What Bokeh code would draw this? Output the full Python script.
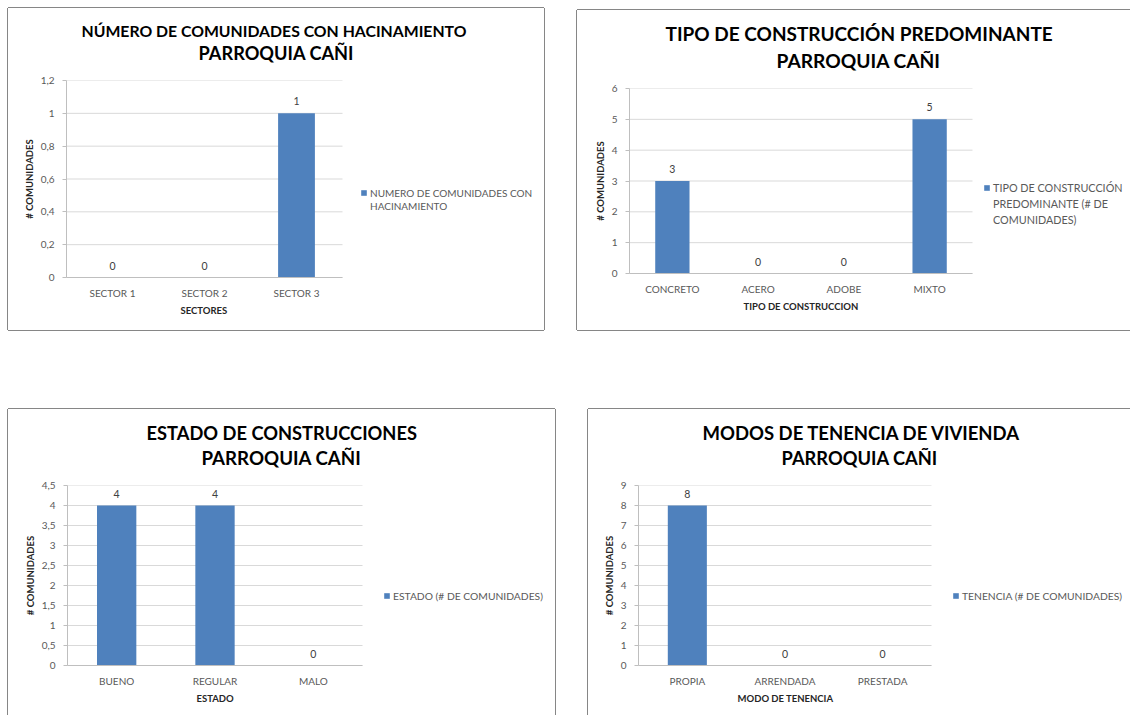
from bokeh.plotting import figure
from bokeh.models import (Range1d, FixedTicker, Title, Legend, LegendItem,
                          ColumnDataSource, Spacer)
from bokeh.layouts import row, column
from bokeh.embed import file_html
from bokeh.resources import INLINE
from bokeh.core.properties import value

# ---------------- data ----------------
c1_cats = ["SECTOR 1", "SECTOR 2", "SECTOR 3"]
c1_vals = [0, 0, 1]
c1_ticks = [0, 0.2, 0.4, 0.6, 0.8, 1.0, 1.2]
c1_tick_labels = ["0", "0,2", "0,4", "0,6", "0,8", "1", "1,2"]
c1_title = ["NÚMERO DE COMUNIDADES CON HACINAMIENTO", "PARROQUIA CAÑI"]
c1_xlabel = "SECTORES"
c1_legend = ["NUMERO DE COMUNIDADES CON", "HACINAMIENTO"]

c2_cats = ["CONCRETO", "ACERO", "ADOBE", "MIXTO"]
c2_vals = [3, 0, 0, 5]
c2_ticks = [0, 1, 2, 3, 4, 5, 6]
c2_tick_labels = ["0", "1", "2", "3", "4", "5", "6"]
c2_title = ["TIPO DE CONSTRUCCIÓN PREDOMINANTE", "PARROQUIA CAÑI"]
c2_xlabel = "TIPO DE CONSTRUCCION"
c2_legend = ["TIPO DE CONSTRUCCIÓN", "PREDOMINANTE (# DE", "COMUNIDADES)"]

c3_cats = ["BUENO", "REGULAR", "MALO"]
c3_vals = [4, 4, 0]
c3_ticks = [0, 0.5, 1, 1.5, 2, 2.5, 3, 3.5, 4, 4.5]
c3_tick_labels = ["0", "0,5", "1", "1,5", "2", "2,5", "3", "3,5", "4", "4,5"]
c3_title = ["ESTADO DE CONSTRUCCIONES", "PARROQUIA CAÑI"]
c3_xlabel = "ESTADO"
c3_legend = ["ESTADO (# DE COMUNIDADES)"]

c4_cats = ["PROPIA", "ARRENDADA", "PRESTADA"]
c4_vals = [8, 0, 0]
c4_ticks = [0, 1, 2, 3, 4, 5, 6, 7, 8, 9]
c4_tick_labels = ["0", "1", "2", "3", "4", "5", "6", "7", "8", "9"]
c4_title = ["MODOS DE TENENCIA DE VIVIENDA", "PARROQUIA CAÑI"]
c4_xlabel = "MODO DE TENENCIA"
c4_legend = ["TENENCIA (# DE COMUNIDADES)"]

y_label = "# COMUNIDADES"

# ---------------- style ----------------
FONT = "Lato"
BLUE = "#4F81BD"
GRID = "#D9D9D9"
AXIS = "#BFBFBF"
TICK_TXT = "#595959"
BORDER = "#868686"
SH = {"L": "-1px 0 0 0 " + BORDER, "R": "1px 0 0 0 " + BORDER,
      "T": "0 -1px 0 0 " + BORDER, "B": "0 1px 0 0 " + BORDER}


def shadow(sides):
    return ", ".join(SH[s] for s in sides)


def make_chart(cats, vals, ticks, tick_labels, titles, xlabel, legend_lines, g):
    n = len(cats)
    xs = [i + 0.5 for i in range(n)]          # category centres
    x_end = n * (g["w"] - g["l"]) / g["pw"]    # room on the right for the legend
    p = figure(x_range=Range1d(0, x_end), y_range=Range1d(ticks[0], ticks[-1]),
               width=g["w"], height=g["h"], title=None,
               output_backend="svg", toolbar_location=None,
               min_border_left=g["l"], min_border_right=0,
               min_border_top=g["t"], min_border_bottom=g["b"],
               background_fill_color="white", border_fill_color="white",
               outline_line_color=None, styles={"box-shadow": shadow(g["sides"])})
    p.xgrid.visible = False
    p.ygrid.visible = False

    # horizontal gridlines over the category area only
    p.segment(x0=[0] * len(ticks), x1=[n] * len(ticks), y0=ticks, y1=ticks,
              line_color=GRID, line_width=1)

    src = ColumnDataSource(dict(x=xs, val=vals, lab=[str(v) for v in vals]))
    r = p.vbar(x="x", top="val", width=0.4, source=src,
               fill_color=BLUE, line_color=None)
    p.text(x="x", y="val", text="lab", source=src, text_align="center",
           text_baseline="middle", y_offset=-12, text_font=value(FONT),
           text_font_size="10.5px", text_color="#404040")

    yt = FixedTicker(ticks=ticks)
    p.yaxis.ticker = yt
    p.yaxis.major_label_overrides = dict(zip(ticks, tick_labels))
    p.yaxis.axis_line_color = AXIS
    p.yaxis.major_tick_line_color = AXIS
    p.yaxis.major_tick_out = 4
    p.yaxis.major_tick_in = 0
    p.yaxis.minor_tick_line_color = None
    p.yaxis.major_label_standoff = 8
    p.yaxis.axis_label = y_label
    p.yaxis.axis_label_standoff = 3

    p.xaxis.ticker = FixedTicker(ticks=xs)
    p.xaxis.major_label_overrides = dict(zip(xs, cats))
    p.xaxis.bounds = (0, n)
    p.xaxis.axis_line_color = AXIS
    p.xaxis.major_tick_line_color = None
    p.xaxis.minor_tick_line_color = None
    p.xaxis.major_tick_out = 0
    p.xaxis.major_tick_in = 0
    p.xaxis.major_label_standoff = 9

    for ax in (p.xaxis, p.yaxis):
        ax.major_label_text_font = FONT
        ax.major_label_text_font_size = "10px"
        ax.major_label_text_color = TICK_TXT
        ax.axis_label_text_font = FONT
        ax.axis_label_text_font_size = "9.5px"
        ax.axis_label_text_font_style = "bold"
        ax.axis_label_text_color = "#262626"

    # x axis title, centred under the category area
    p.add_layout(Title(text=xlabel, align="left", offset=g["xo"], standoff=2,
                       text_font=FONT, text_font_size="9.5px", text_font_style="bold",
                       text_color="#262626"), "below")

    # titles: an empty spacer title next to the frame, then line 2, then line 1
    f1, f2 = g["f"]
    tc1, tc2 = g["tc"]
    h1, h2 = 1.2 * f1, 1.2 * f2
    S = tc2 - h2 / 2
    gap = max(0.0, S - 3.2)
    s1 = max(0.0, 2 * (tc1 - S - h2 - 2 - h1 / 2))
    p.add_layout(Title(text=" ", text_font_size="1px", standoff=gap), "above")
    p.add_layout(Title(text=titles[1], align="left", offset=g["o"][1], standoff=0,
                       text_font=FONT, text_font_size="%.1fpx" % f2, text_font_style="bold",
                       text_color="black"), "above")
    p.add_layout(Title(text=titles[0], align="left", offset=g["o"][0], standoff=s1,
                       text_font=FONT, text_font_size="%.1fpx" % f1, text_font_style="bold",
                       text_color="black"), "above")

    # legend: first line carries the swatch, further lines are continuation text
    items = [LegendItem(label=legend_lines[0], renderers=[r])]
    if len(legend_lines) > 1:
        ghost = p.vbar(x=[], top=[], width=0.4, fill_alpha=0, line_alpha=0)
        for line in legend_lines[1:]:
            items.append(LegendItem(label=line, renderers=[ghost]))
    legend = Legend(items=items, location=(g["pw"] + g["leg"][0], g["leg"][1]),
                    padding=0, margin=0, spacing=g["sp"],
                    border_line_color=None, background_fill_alpha=0,
                    glyph_width=7, glyph_height=7, label_standoff=3,
                    label_height=g["lhgt"], label_text_baseline="middle",
                    label_text_font=FONT, label_text_font_size=g["lfs"],
                    label_text_color=TICK_TXT)
    p.add_layout(legend, "center")
    return p


g1 = dict(w=536, h=322, l=58, pw=276, t=72, b=53, o=(15, 132), f=(15.85, 18.2), tc=(50, 28),
          xo=114, leg=(18, 65), lhgt=13, sp=0, lfs="10px", sides="LTRB")
g2 = dict(w=553, h=320, l=52, pw=343, t=78, b=57, o=(36, 147), f=(19.0, 19.2), tc=(55, 29),
          xo=114, leg=(11, 46), lhgt=15, sp=1, lfs="10.8px", sides="LTB")
g3 = dict(w=547, h=306, l=59, pw=295, t=76, b=50, o=(79, 134), f=(18.3, 18.7), tc=(53, 28),
          xo=129, leg=(21, 63), lhgt=13, sp=0, lfs="10.3px", sides="LTR")
g4 = dict(w=542, h=306, l=50, pw=293, t=76, b=50, o=(64, 143), f=(18.5, 18.3), tc=(53, 28),
          xo=99, leg=(21, 63), lhgt=13, sp=0, lfs="10.3px", sides="LT")

p1 = make_chart(c1_cats, c1_vals, c1_ticks, c1_tick_labels, c1_title, c1_xlabel, c1_legend, g1)
p2 = make_chart(c2_cats, c2_vals, c2_ticks, c2_tick_labels, c2_title, c2_xlabel, c2_legend, g2)
p3 = make_chart(c3_cats, c3_vals, c3_ticks, c3_tick_labels, c3_title, c3_xlabel, c3_legend, g3)
p4 = make_chart(c4_cats, c4_vals, c4_ticks, c4_tick_labels, c4_title, c4_xlabel, c4_legend, g4)

layout = column(
    Spacer(width=1130, height=8),
    row(Spacer(width=8, height=322), p1, Spacer(width=33, height=322),
        column(Spacer(width=553, height=2), p2)),
    Spacer(width=1130, height=79),
    row(Spacer(width=8, height=306), p3, Spacer(width=33, height=306), p4),
)

open("out.html", "w").write(file_html(layout, INLINE))
